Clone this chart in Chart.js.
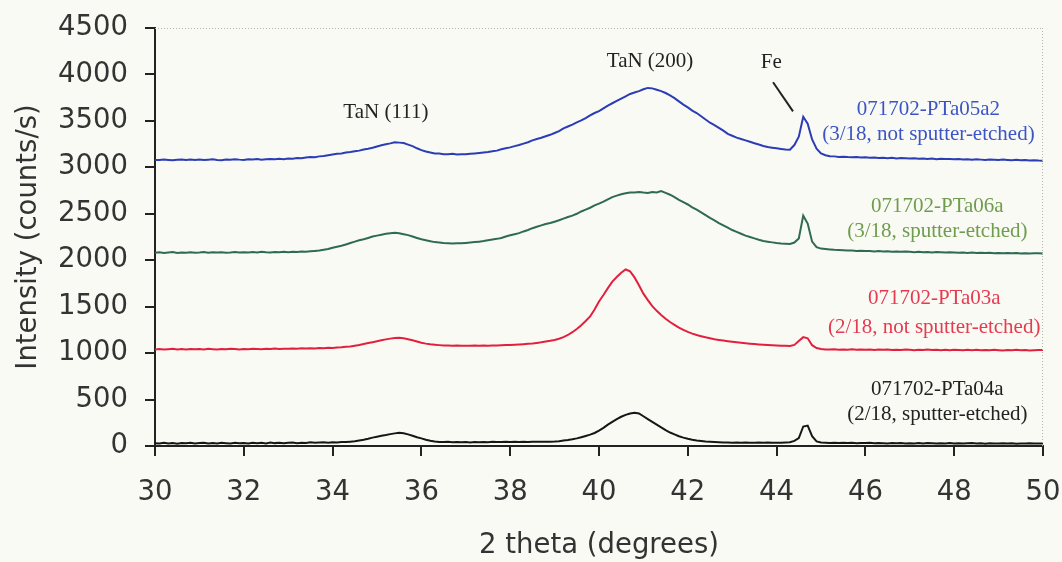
<!DOCTYPE html>
<html>
<head>
<meta charset="utf-8">
<script src="https://cdn.jsdelivr.net/npm/chart.js@4.4.1/dist/chart.umd.min.js"></script>
<style>
  html, body { margin: 0; padding: 0; background: #fafaf4; }
  #wrap { width: 1062px; height: 562px; position: relative; }
</style>
</head>
<body>
<div id="wrap"><canvas id="c" width="1062" height="562"></canvas></div>
<script>
// ---- DATA ----
const twoTheta = [
30.0,30.1,30.2,30.3,30.4,30.5,30.6,30.7,30.8,30.9,
31.0,31.1,31.2,31.3,31.4,31.5,31.6,31.7,31.8,31.9,
32.0,32.1,32.2,32.3,32.4,32.5,32.6,32.7,32.8,32.9,
33.0,33.1,33.2,33.3,33.4,33.5,33.6,33.7,33.8,33.9,
34.0,34.1,34.2,34.3,34.4,34.5,34.6,34.7,34.8,34.9,
35.0,35.1,35.2,35.3,35.4,35.5,35.6,35.7,35.8,35.9,
36.0,36.1,36.2,36.3,36.4,36.5,36.6,36.7,36.8,36.9,
37.0,37.1,37.2,37.3,37.4,37.5,37.6,37.7,37.8,37.9,
38.0,38.1,38.2,38.3,38.4,38.5,38.6,38.7,38.8,38.9,
39.0,39.1,39.2,39.3,39.4,39.5,39.6,39.7,39.8,39.9,
40.0,40.1,40.2,40.3,40.4,40.5,40.6,40.7,40.8,40.9,
41.0,41.1,41.2,41.3,41.4,41.5,41.6,41.7,41.8,41.9,
42.0,42.1,42.2,42.3,42.4,42.5,42.6,42.7,42.8,42.9,
43.0,43.1,43.2,43.3,43.4,43.5,43.6,43.7,43.8,43.9,
44.0,44.1,44.2,44.3,44.4,44.5,44.6,44.7,44.8,44.9,
45.0,45.1,45.2,45.3,45.4,45.5,45.6,45.7,45.8,45.9,
46.0,46.1,46.2,46.3,46.4,46.5,46.6,46.7,46.8,46.9,
47.0,47.1,47.2,47.3,47.4,47.5,47.6,47.7,47.8,47.9,
48.0,48.1,48.2,48.3,48.4,48.5,48.6,48.7,48.8,48.9,
49.0,49.1,49.2,49.3,49.4,49.5,49.6,49.7,49.8,49.9,
50.0];

// 071702-PTa05a2 (3/18, not sputter-etched)
const pta05a2 = [
3080,3078,3085,3080,3076,3082,3085,3079,3083,3080,
3084,3079,3082,3086,3080,3077,3085,3082,3088,3083,
3080,3086,3084,3089,3083,3087,3090,3086,3092,3088,
3095,3093,3100,3098,3105,3110,3108,3118,3122,3130,
3138,3145,3150,3160,3165,3172,3180,3192,3200,3210,
3225,3238,3248,3258,3270,3266,3262,3245,3228,3205,
3185,3170,3160,3150,3148,3142,3140,3145,3138,3142,
3140,3146,3150,3155,3160,3165,3172,3180,3195,3205,
3215,3228,3240,3255,3270,3290,3305,3318,3335,3350,
3370,3390,3420,3440,3460,3485,3505,3530,3560,3585,
3605,3635,3665,3690,3715,3740,3765,3790,3805,3820,
3840,3855,3850,3835,3820,3800,3775,3745,3710,3675,
3645,3610,3585,3550,3515,3480,3455,3425,3395,3360,
3340,3320,3305,3290,3275,3260,3245,3230,3220,3212,
3205,3198,3192,3190,3240,3330,3545,3470,3300,3200,
3150,3130,3120,3118,3112,3115,3110,3108,3112,3105,
3108,3102,3105,3100,3104,3098,3102,3096,3100,3097,
3095,3099,3092,3096,3090,3094,3088,3093,3089,3091,
3086,3090,3084,3088,3082,3087,3083,3080,3085,3081,
3078,3083,3079,3076,3081,3075,3079,3074,3077,3073,
3072];

// 071702-PTa06a (3/18, sputter-etched)
const pta06a = [
2080,2085,2078,2083,2088,2079,2084,2081,2086,2080,
2083,2088,2080,2085,2082,2087,2081,2084,2089,2083,
2086,2082,2088,2084,2090,2085,2083,2089,2086,2091,
2087,2090,2088,2093,2091,2096,2100,2105,2112,2120,
2135,2145,2155,2170,2185,2200,2215,2225,2240,2255,
2265,2275,2285,2290,2295,2290,2280,2270,2255,2240,
2225,2215,2205,2195,2190,2185,2182,2180,2184,2182,
2186,2190,2195,2200,2206,2215,2222,2230,2240,2255,
2268,2280,2292,2310,2325,2345,2360,2375,2390,2400,
2415,2430,2448,2465,2480,2500,2525,2545,2565,2590,
2610,2630,2655,2680,2695,2710,2720,2730,2728,2735,
2728,2725,2735,2730,2745,2725,2705,2680,2650,2625,
2600,2570,2545,2515,2485,2455,2430,2400,2375,2350,
2325,2305,2285,2265,2250,2235,2220,2208,2200,2192,
2185,2180,2178,2175,2190,2235,2480,2395,2200,2140,
2125,2120,2116,2112,2110,2108,2105,2104,2100,2102,
2098,2100,2095,2099,2093,2097,2092,2095,2090,2094,
2090,2087,2091,2086,2089,2084,2088,2085,2082,2086,
2083,2080,2084,2079,2082,2078,2081,2077,2080,2076,
2079,2075,2078,2074,2077,2073,2076,2072,2075,2074,
2073];

// 071702-PTa03a (2/18, not sputter-etched)
const pta03a = [
1040,1044,1038,1042,1046,1040,1043,1039,1045,1041,
1043,1040,1046,1042,1038,1044,1041,1047,1043,1040,
1045,1042,1048,1044,1041,1047,1043,1049,1045,1048,
1046,1050,1047,1052,1049,1053,1050,1055,1052,1057,
1055,1060,1062,1068,1072,1080,1088,1098,1108,1118,
1128,1138,1148,1156,1162,1166,1160,1150,1138,1125,
1112,1102,1095,1090,1086,1083,1082,1080,1081,1079,
1080,1078,1081,1079,1082,1080,1083,1081,1084,1086,
1088,1090,1093,1096,1100,1104,1110,1116,1124,1132,
1142,1155,1172,1195,1225,1260,1300,1345,1395,1470,
1555,1625,1700,1770,1820,1865,1900,1880,1815,1730,
1640,1570,1505,1455,1410,1370,1335,1305,1275,1250,
1228,1210,1195,1182,1170,1160,1150,1142,1135,1128,
1122,1116,1111,1106,1102,1098,1094,1090,1087,1084,
1082,1080,1078,1076,1088,1130,1172,1160,1085,1055,
1045,1040,1038,1042,1036,1040,1037,1041,1035,1039,
1036,1040,1034,1038,1035,1039,1033,1037,1034,1038,
1035,1032,1037,1034,1038,1033,1036,1032,1035,1031,
1036,1033,1030,1035,1032,1036,1031,1034,1030,1035,
1032,1029,1034,1031,1035,1030,1033,1029,1032,1034,
1033];

// 071702-PTa04a (2/18, sputter-etched)
const pta04a = [
30,26,34,28,32,25,33,29,35,27,
31,36,28,33,27,35,30,26,34,29,
33,28,36,30,34,27,37,31,35,29,
34,38,31,36,33,39,34,37,41,36,
40,38,44,42,47,52,60,68,78,90,
100,110,118,128,136,142,138,125,110,95,
82,68,56,48,44,42,45,41,43,40,
42,39,44,41,43,40,45,42,44,46,
42,45,43,46,44,47,45,46,45,47,
48,52,58,64,72,82,95,108,122,140,
165,195,230,260,290,315,335,350,358,350,
320,290,260,230,200,170,145,125,105,90,
78,68,60,54,48,45,42,40,38,37,
36,38,35,37,34,36,38,35,37,34,
36,35,37,40,55,85,210,220,105,50,
38,35,33,36,32,34,31,35,30,33,
31,34,29,33,30,28,32,29,31,27,
30,28,32,27,31,29,26,30,28,31,
27,30,26,29,32,27,30,25,29,28,
26,29,27,30,25,28,26,29,27,28,
27];

const seriesNames = ["071702-PTa04a", "071702-PTa03a", "071702-PTa06a", "071702-PTa05a2"];
const seriesNotes = ["(2/18, sputter-etched)", "(2/18, not sputter-etched)", "(3/18, sputter-etched)", "(3/18, not sputter-etched)"];
const peakLabels = ["TaN (111)", "TaN (200)", "Fe"];
const xTitle = "2 theta (degrees)";
const yTitle = "Intensity (counts/s)";

// ---- STYLES ----
const lineColors = ["#161616", "#e2203e", "#2f6a55", "#2b3db6"];
const labelColors = ["#222222", "#e63a50", "#6f9c4e", "#3c55c6"];
// label anchor positions in data coordinates (x, y of first line, y of second line)
const labelPos = [
  [47.62, 604, 334],
  [47.55, 1586, 1273],
  [47.62, 2578, 2308],
  [47.42, 3625, 3355]
];
const peakPos = [[35.2, 3592], [41.15, 4142], [43.88, 4130]];
const feLine = [[43.92, 3916], [44.37, 3603]];

const ys = [pta04a, pta03a, pta06a, pta05a2];

const datasets = ys.map((arr, i) => ({
  label: seriesNames[i],
  data: twoTheta.map((t, j) => ({ x: t, y: arr[j] })),
  borderColor: lineColors[i],
  borderWidth: 2,
  pointRadius: 0,
  tension: 0,
  fill: false
}));

const sansFont = '"DejaVu Sans", Verdana, sans-serif';
const serifFont = '"Liberation Serif", "Times New Roman", serif';

const annotPlugin = {
  id: 'annot',
  beforeDraw(chart) {
    const { ctx } = chart;
    ctx.save();
    ctx.fillStyle = '#fafaf4';
    ctx.fillRect(0, 0, chart.width, chart.height);
    ctx.restore();
  },
  afterDraw(chart) {
    const { ctx, chartArea: a } = chart;
    const xs = chart.scales.x, yy = chart.scales.y;
    ctx.save();
    // faint dotted top/right frame
    ctx.strokeStyle = '#b4b4b0';
    ctx.lineWidth = 1;
    ctx.setLineDash([1, 2]);
    ctx.beginPath();
    ctx.moveTo(a.left, a.top + 0.5);
    ctx.lineTo(a.right, a.top + 0.5);
    ctx.moveTo(a.right - 0.5, a.top);
    ctx.lineTo(a.right - 0.5, a.bottom);
    ctx.stroke();
    ctx.setLineDash([]);

    ctx.font = '21px ' + serifFont;
    ctx.textAlign = 'center';
    ctx.textBaseline = 'middle';
    ctx.fillStyle = '#222';
    peakLabels.forEach((t, i) => {
      ctx.fillText(t, xs.getPixelForValue(peakPos[i][0]), yy.getPixelForValue(peakPos[i][1]));
    });
    ctx.strokeStyle = '#222';
    ctx.lineWidth = 2;
    ctx.beginPath();
    ctx.moveTo(xs.getPixelForValue(feLine[0][0]), yy.getPixelForValue(feLine[0][1]));
    ctx.lineTo(xs.getPixelForValue(feLine[1][0]), yy.getPixelForValue(feLine[1][1]));
    ctx.stroke();

    seriesNames.forEach((n, i) => {
      ctx.fillStyle = labelColors[i];
      const px = xs.getPixelForValue(labelPos[i][0]);
      ctx.fillText(n, px, yy.getPixelForValue(labelPos[i][1]));
      ctx.fillText(seriesNotes[i], px, yy.getPixelForValue(labelPos[i][2]));
    });
    ctx.restore();
  }
};

new Chart(document.getElementById('c'), {
  type: 'line',
  data: { datasets },
  options: {
    responsive: false,
    animation: false,
    layout: { padding: { top: 28, right: 19, left: 0, bottom: 0 } },
    plugins: { legend: { display: false }, tooltip: { enabled: false } },
    scales: {
      x: {
        type: 'linear',
        min: 30, max: 50,
        afterFit: s => { s.height = 116; s.paddingLeft = 0; s.paddingRight = 0; },
        ticks: { stepSize: 2, padding: 20, color: '#333', font: { family: sansFont, size: 27.5 }, callback: v => String(v) },
        grid: { drawOnChartArea: false, drawTicks: true, tickLength: 10, color: '#222', lineWidth: 2 },
        border: { display: true, color: '#222', width: 2 },
        title: { display: true, text: xTitle, color: '#333', font: { family: sansFont, size: 27.5 }, padding: { top: 0, bottom: 0 } }
      },
      y: {
        min: 0, max: 4500,
        afterFit: s => { s.width = 155; s.paddingTop = 0; s.paddingBottom = 0; },
        ticks: { stepSize: 500, padding: 17, color: '#333', font: { family: sansFont, size: 27.5 }, callback: v => String(v) },
        grid: { drawOnChartArea: false, drawTicks: true, tickLength: 10, color: '#222', lineWidth: 2 },
        border: { display: true, color: '#222', width: 2 },
        title: { display: true, text: yTitle, color: '#333', font: { family: sansFont, size: 27.5 }, padding: { top: 12, bottom: 0 } }
      }
    }
  },
  plugins: [annotPlugin]
});
</script>
</body>
</html>
